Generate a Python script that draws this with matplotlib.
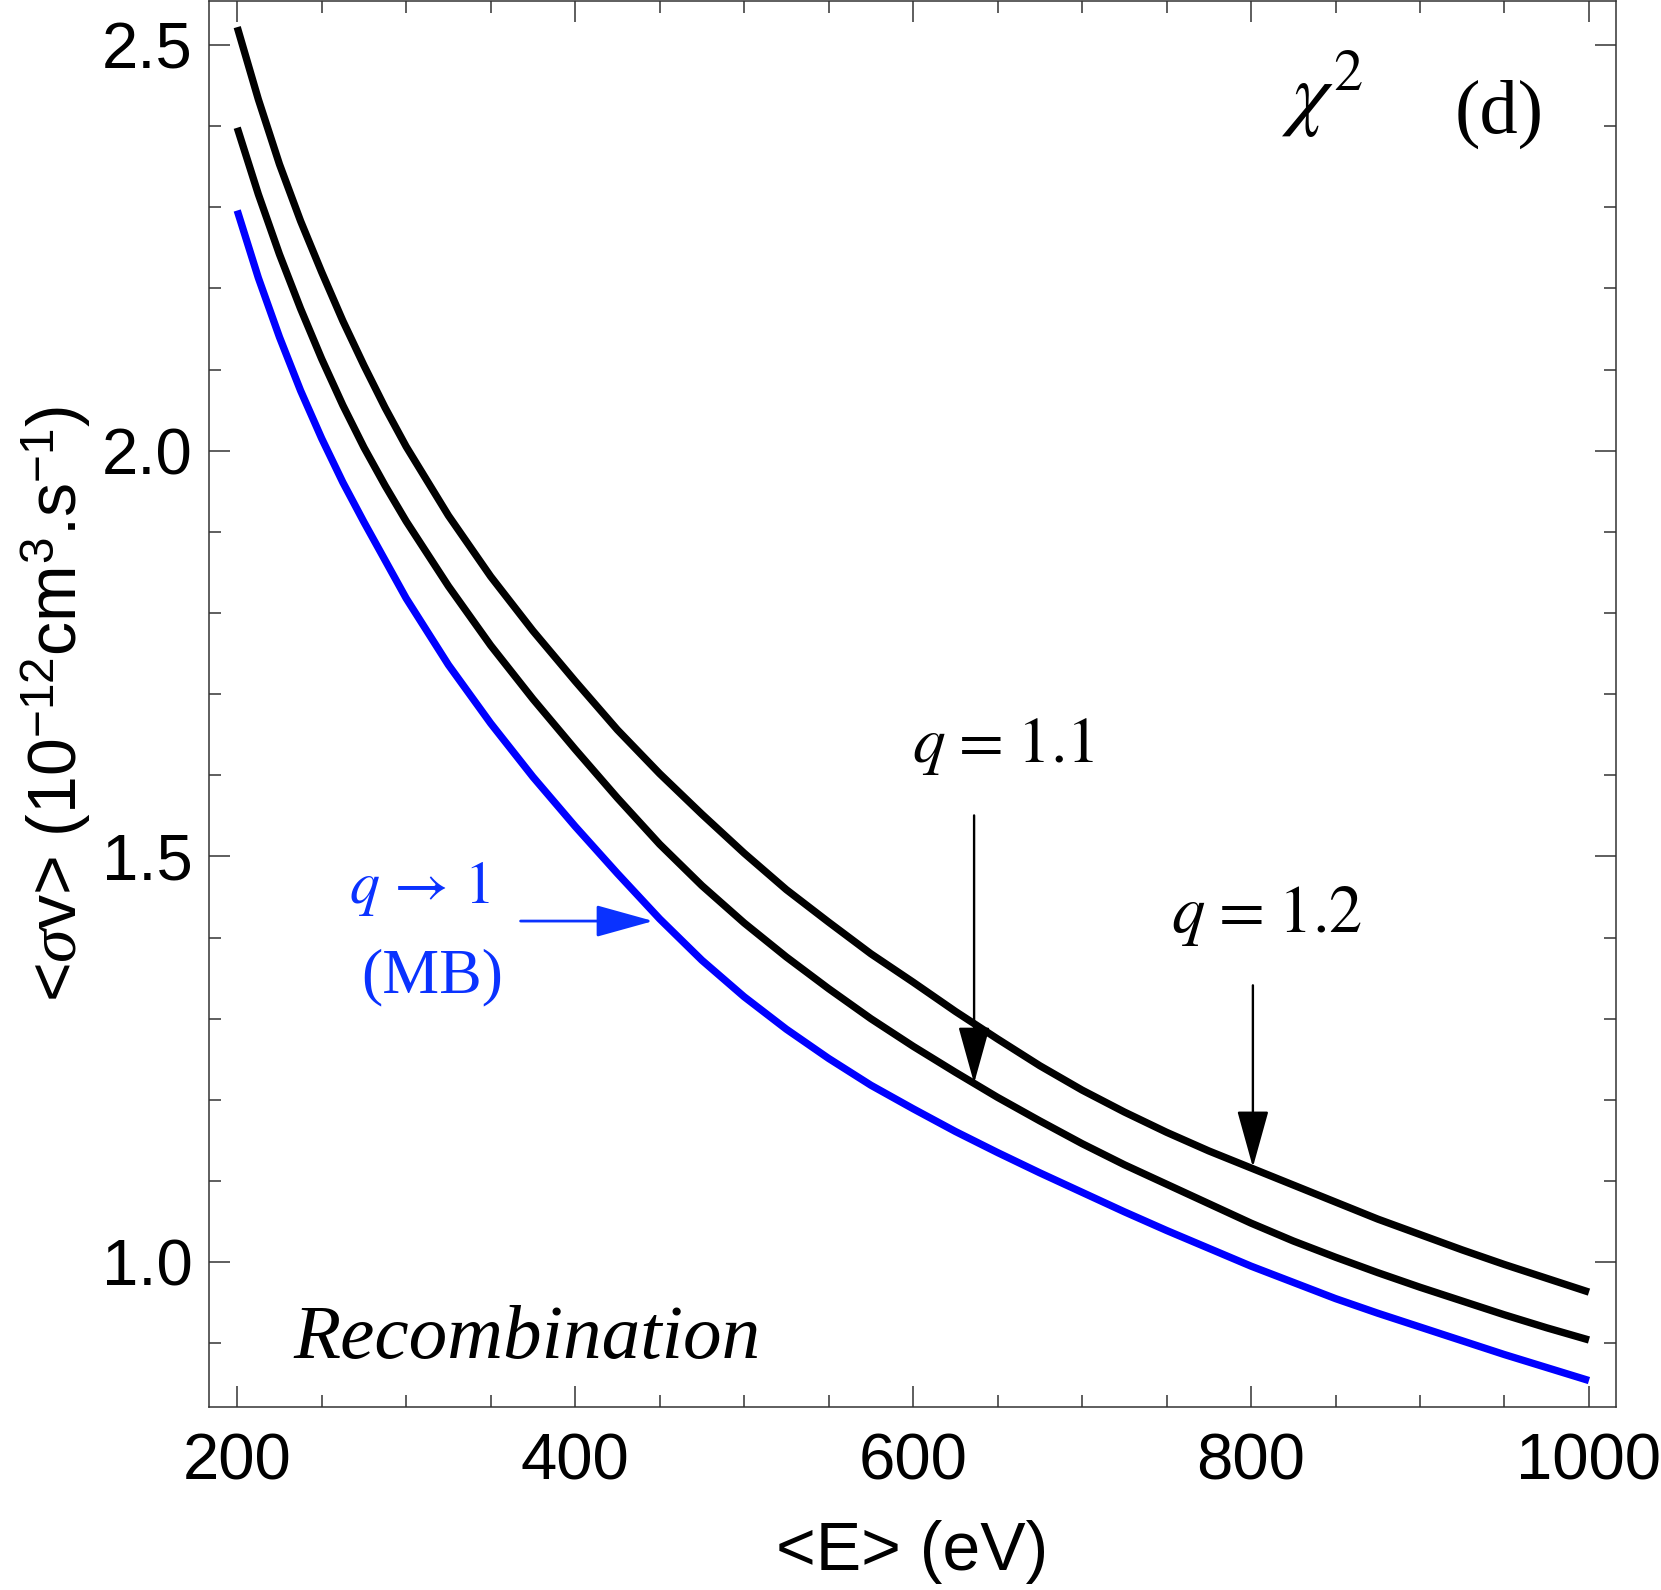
import matplotlib
matplotlib.use('Agg')
import matplotlib.pyplot as plt
from matplotlib.ticker import MultipleLocator

plt.rcParams['mathtext.fontset'] = 'custom'
plt.rcParams['mathtext.rm'] = 'Liberation Sans'
plt.rcParams['mathtext.it'] = 'Liberation Serif:italic'
plt.rcParams['mathtext.bf'] = 'Liberation Sans:bold'
plt.rcParams['font.family'] = ['Liberation Sans', 'DejaVu Sans']

# ---- data ----
energy = [200, 212.5, 225, 237.5, 250, 262.5, 275, 287.5, 300,
          325, 350, 375, 400, 425, 450, 475, 500,
          525, 550, 575, 600, 625, 650, 675, 700, 725, 750, 775, 800, 825,
          850, 875, 900, 925, 950, 975, 1000]
sv_q12 = [2.522, 2.433, 2.353, 2.283, 2.220, 2.160, 2.105, 2.053, 2.005,
          1.920, 1.845, 1.778, 1.716,
          1.656, 1.602, 1.552, 1.504, 1.459, 1.419, 1.380, 1.345, 1.309,
          1.275, 1.242, 1.212, 1.185, 1.160, 1.137, 1.116, 1.095, 1.074,
          1.053, 1.034, 1.015, 0.997, 0.980, 0.963]
sv_q11 = [2.398, 2.316, 2.242, 2.175, 2.113, 2.056, 2.004, 1.957, 1.913,
          1.833, 1.760, 1.694, 1.632,
          1.572, 1.515, 1.464, 1.418, 1.376, 1.337, 1.300, 1.266, 1.234,
          1.203, 1.174, 1.146, 1.120, 1.096, 1.072, 1.048, 1.026, 1.006,
          0.987, 0.969, 0.952, 0.935, 0.919, 0.904]
sv_mb = [2.296, 2.213, 2.140, 2.074, 2.015, 1.961, 1.912, 1.865, 1.818,
         1.736, 1.664, 1.598, 1.537,
         1.479, 1.423, 1.372, 1.327, 1.287, 1.251, 1.218, 1.189, 1.161,
         1.135, 1.110, 1.086, 1.062, 1.039, 1.017, 0.995, 0.975, 0.955,
         0.937, 0.920, 0.903, 0.886, 0.870, 0.854]
xticks = [200, 400, 600, 800, 1000]
yticks = [1.0, 1.5, 2.0, 2.5]
ytick_labels = ['1.0', '1.5', '2.0', '2.5']

BLUE_LINE = '#0000ff'
BLUE_TEXT = '#0a32ff'

fig = plt.figure(figsize=(16.61, 15.90), dpi=100)
ax = fig.add_axes([0.12583, 0.11509, 0.97291 - 0.12583, 0.99937 - 0.11509])

lw = 5.3
for series, col in ((sv_q12, 'black'), (sv_q11, 'black'), (sv_mb, BLUE_LINE)):
    ax.plot(energy, series, color=col, lw=lw, solid_capstyle='butt',
            solid_joinstyle='round')

ax.set_xlim(183.3, 1016.0)
ax.set_ylim(0.8214, 2.5542)

ax.set_xticks(xticks)
ax.set_xticklabels([str(t) for t in xticks])
ax.set_yticks(yticks)
ax.set_yticklabels(ytick_labels)
ax.xaxis.set_minor_locator(MultipleLocator(50))
ax.yaxis.set_minor_locator(MultipleLocator(0.1))
ax.tick_params(which='both', direction='in', top=True, right=True,
               width=1.1, color='#333333')
ax.tick_params(which='major', length=15, labelsize=47)
ax.tick_params(which='minor', length=8.6)
ax.tick_params(axis='x', which='major', pad=18)
ax.tick_params(axis='y', which='major', pad=12)
for sp in ax.spines.values():
    sp.set_linewidth(1.1)
    sp.set_color('#333333')

ax.set_xlabel('<E> (eV)', fontsize=49, labelpad=20)
ax.set_ylabel(r'<$\sigma$v> (10$^{-12}$cm$^{3}$.s$^{-1}$)', fontsize=49,
              labelpad=6)

serif = ['Liberation Serif', 'DejaVu Serif']

# arrows
ak = dict(arrowstyle='-|>,head_length=3.6,head_width=1.0', mutation_scale=10,
          lw=1.7, color='black', shrinkA=0, shrinkB=0)
ax.annotate('', xy=(636.1, 1.2204), xytext=(636.1, 1.5505), arrowprops=ak)
ax.annotate('', xy=(801.1, 1.117), xytext=(801.1, 1.3411), arrowprops=ak)
ab = dict(ak)
ab['color'] = BLUE_TEXT
ab['lw'] = 2.0
ax.annotate('', xy=(446.2, 1.4203), xytext=(367.7, 1.4203), arrowprops=ab)

# text labels (Times-like math via STIX)
ax.text(653.1, 1.6158, r'$q\hspace{0.1}=\hspace{0.1}1.1$', fontsize=47,
        math_fontfamily='stix', ha='center', va='baseline')
ax.text(809.3, 1.4064, r'$q\hspace{0.1}=\hspace{0.1}1.2$', fontsize=48,
        math_fontfamily='stix', ha='center', va='baseline')
ax.text(308.1, 1.4421, r'$q\hspace{0.15}\rightarrow\hspace{0.15}1$',
        fontsize=43, math_fontfamily='stix', ha='center', va='baseline',
        color=BLUE_TEXT)
ax.text(315.2, 1.3325, '(MB)', fontsize=46, family=serif,
        ha='center', va='baseline', color=BLUE_TEXT)
ax.text(233.0, 0.8818, 'Recombination', fontsize=55.5, family=serif,
        style='italic', ha='left', va='baseline')
ax.text(947.1, 2.3916, '(d)', fontsize=55, family=serif,
        ha='center', va='baseline')
ax.text(818.0, 2.4064, r'$\chi^{2}$', fontsize=60, math_fontfamily='stix',
        ha='left', va='baseline')

fig.savefig('out.png', dpi=100)
